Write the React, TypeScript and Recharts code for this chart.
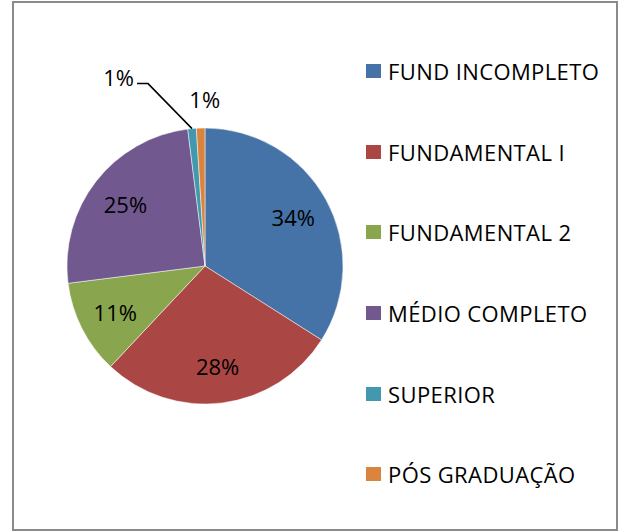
import React from 'react';
import { PieChart, Pie, Cell, Legend } from 'recharts';

const categories = ['FUND INCOMPLETO', 'FUNDAMENTAL I', 'FUNDAMENTAL 2', 'MÉDIO COMPLETO', 'SUPERIOR', 'PÓS GRADUAÇÃO'];
const percents = [34, 28, 11, 25, 1, 1];
const colors = ['#4572A7', '#AA4643', '#89A54E', '#71588F', '#4198AF', '#DB843D'];

const data = categories.map((name, i) => ({ name, value: percents[i] }));

const FONT = '"Open Sans", "Noto Sans", sans-serif';
const RADIAN = Math.PI / 180;

const renderLabel = (props: any) => {
  const { cx, cy, midAngle, outerRadius, index, value } = props;
  const cos = Math.cos(-midAngle * RADIAN);
  const sin = Math.sin(-midAngle * RADIAN);
  const txt = `${value}%`;
  const style = { fontFamily: FONT, fontSize: 22, fill: '#000' };

  // SUPERIOR: label pulled out with a leader line
  if (index === 4) {
    const sx = cx + outerRadius * cos;
    const sy = cy + outerRadius * sin;
    const ex = sx - 44;
    const ey = sy - 45;
    return (
      <g>
        <polyline points={`${sx},${sy} ${ex},${ey} ${ex - 11},${ey}`} fill="none" stroke="#000" strokeWidth={1.5} />
        <text x={ex - 14} y={ey - 7} textAnchor="end" dominantBaseline="central" {...style}>{txt}</text>
      </g>
    );
  }
  // PÓS GRADUAÇÃO: just outside the pie
  if (index === 5) {
    const r = outerRadius + 29;
    return (
      <text x={cx + r * cos + 5} y={cy + r * sin} textAnchor="middle" dominantBaseline="central" {...style}>{txt}</text>
    );
  }
  const r = outerRadius * 0.73;
  return (
    <text x={cx + r * cos} y={cy + r * sin} textAnchor="middle" dominantBaseline="central" {...style}>{txt}</text>
  );
};

const renderLegend = () => (
  <div style={{ fontFamily: FONT }}>
    {categories.map((c, i) => (
      <div key={c} style={{ height: 80.6, display: 'flex', alignItems: 'center' }}>
        <span style={{ width: 15, height: 14, background: colors[i], display: 'inline-block', marginRight: 7 }} />
        <span style={{ fontSize: 22, letterSpacing: 0.4, color: '#000', whiteSpace: 'nowrap' }}>{c}</span>
      </div>
    ))}
  </div>
);

export default function App() {
  return (
    <div style={{ position: 'absolute', left: 0, top: 0, width: 621, height: 532, background: '#fff' }}>
      <div style={{ position: 'absolute', left: 12, top: 1, width: 602, height: 526, border: '2px solid #8a8a8a' }} />
      <PieChart
        width={621}
        height={532}
        margin={{ top: 0, right: 0, bottom: 0, left: 0 }}
        style={{ position: 'absolute', left: 0, top: 0 }}
      >
        <Pie
          data={data}
          dataKey="value"
          nameKey="name"
          cx={205}
          cy={266}
          outerRadius={138}
          startAngle={90}
          endAngle={-270}
          stroke="#ffffff"
          strokeWidth={0.5}
          label={renderLabel}
          labelLine={false}
          isAnimationActive={false}
        >
          {data.map((d, i) => (
            <Cell key={d.name} fill={colors[i]} />
          ))}
        </Pie>
        <Legend
          layout="vertical"
          align="right"
          verticalAlign="top"
          content={renderLegend}
          wrapperStyle={{ left: 366, top: 31, width: 250 }}
        />
      </PieChart>
    </div>
  );
}
